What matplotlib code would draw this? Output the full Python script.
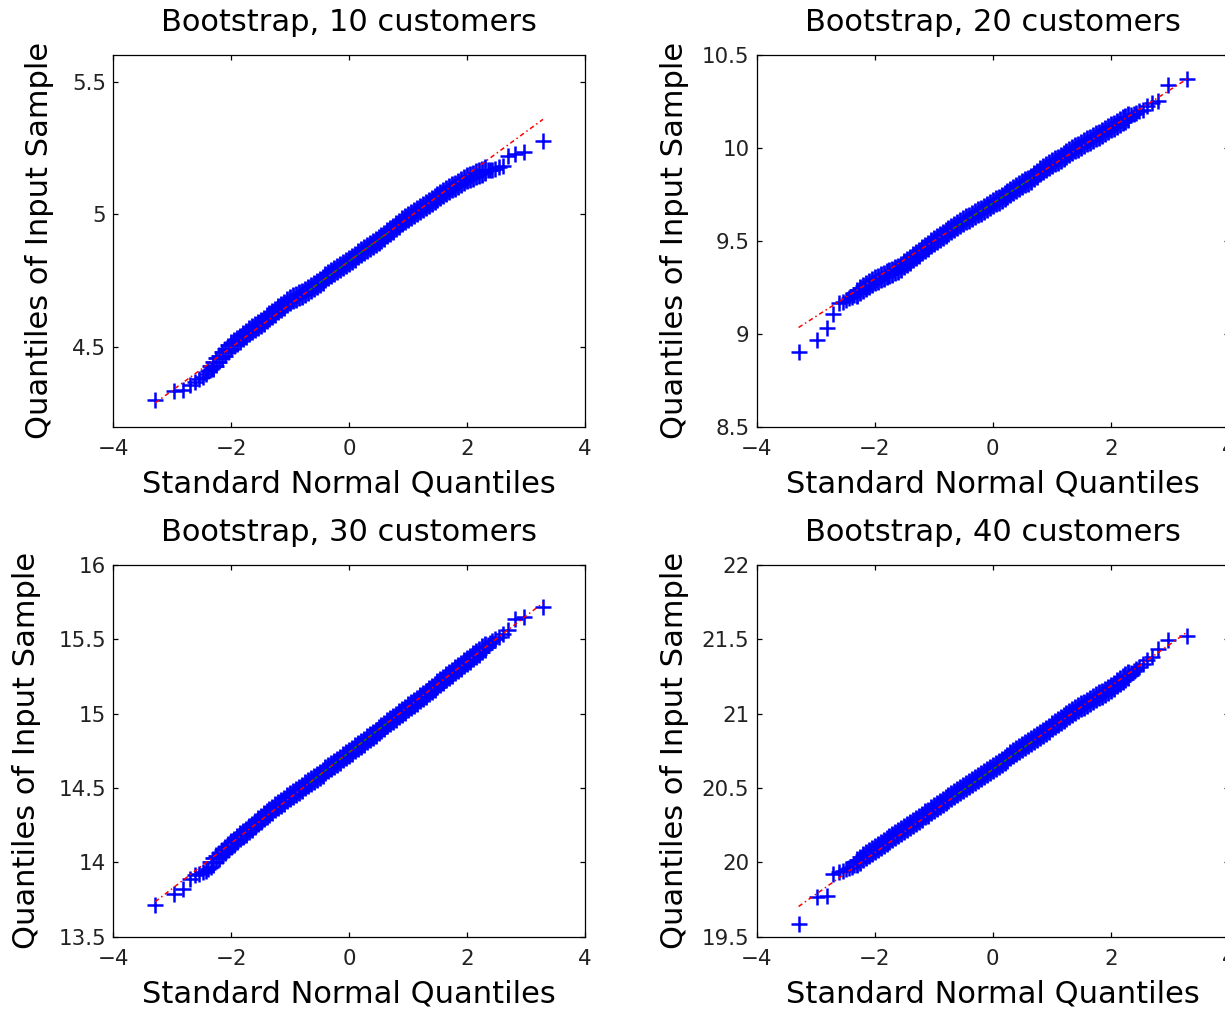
import matplotlib
matplotlib.use('Agg')
import matplotlib.pyplot as plt
import numpy as np
from matplotlib.ticker import FormatStrFormatter

plt.rcParams['font.family'] = ['DejaVu Sans']

# theoretical standard normal quantiles (shared x positions of the QQ points)
norm_q = [-3.29, -2.97, -2.81, -2.70, -2.61, -2.54, -2.48, -2.43, -2.39, -2.35,
          -2.30, -2.25, -2.20, -2.15, -2.10, -2.05, -2.00, -1.95, -1.90, -1.85,
          -1.80, -1.75, -1.70, -1.65, -1.60, -1.55, -1.50, -1.45, -1.40, -1.35,
          -1.30, -1.25, -1.20, -1.15, -1.10, -1.05, -1.00, -0.95, -0.90, -0.85,
          -0.80, -0.75, -0.70, -0.65, -0.60, -0.55, -0.50, -0.45, -0.40, -0.35,
          -0.30, -0.25, -0.20, -0.15, -0.10, -0.05, 0.00, 0.05, 0.10, 0.15,
          0.20, 0.25, 0.30, 0.35, 0.40, 0.45, 0.50, 0.55, 0.60, 0.65,
          0.70, 0.75, 0.80, 0.85, 0.90, 0.95, 1.00, 1.05, 1.10, 1.15,
          1.20, 1.25, 1.30, 1.35, 1.40, 1.45, 1.50, 1.55, 1.60, 1.65,
          1.70, 1.75, 1.80, 1.85, 1.90, 1.95, 2.00, 2.05, 2.10, 2.15,
          2.20, 2.25, 2.30,
          2.35, 2.39, 2.43, 2.48, 2.54, 2.61, 2.70, 2.81, 2.97, 3.29]

# sample quantiles
y_10 = [4.300, 4.335, 4.340, 4.358, 4.370, 4.380, 4.388, 4.398, 4.408, 4.418,
        4.430, 4.445, 4.457, 4.468, 4.481, 4.494, 4.507, 4.514, 4.524, 4.532,
        4.540, 4.551, 4.559, 4.568, 4.575, 4.583, 4.591, 4.600, 4.609, 4.616,
        4.624, 4.633, 4.642, 4.650, 4.659, 4.668, 4.676, 4.683, 4.689, 4.695,
        4.701, 4.707, 4.713, 4.721, 4.729, 4.738, 4.746, 4.754, 4.762, 4.770,
        4.778, 4.786, 4.794, 4.802, 4.810, 4.818, 4.825, 4.833, 4.841, 4.849,
        4.857, 4.865, 4.872, 4.880, 4.888, 4.896, 4.904, 4.912, 4.920, 4.928,
        4.936, 4.945, 4.955, 4.964, 4.974, 4.983, 4.991, 4.999, 5.006, 5.014,
        5.021, 5.029, 5.036, 5.044, 5.051, 5.059, 5.066, 5.073, 5.080, 5.087,
        5.094, 5.101, 5.108, 5.114, 5.121, 5.128, 5.135, 5.140, 5.145, 5.150,
        5.155, 5.160, 5.165,
        5.166, 5.167, 5.168, 5.170, 5.177, 5.183, 5.221, 5.228, 5.233, 5.277]

y_20 = [8.904, 8.964, 9.032, 9.108, 9.164, 9.169, 9.180, 9.192, 9.200, 9.208,
        9.222, 9.233, 9.244, 9.255, 9.266, 9.277, 9.288, 9.296, 9.303, 9.311,
        9.319, 9.327, 9.335, 9.343, 9.351, 9.360, 9.373, 9.386, 9.399, 9.412,
        9.424, 9.437, 9.450, 9.463, 9.474, 9.486, 9.497, 9.509, 9.520, 9.532,
        9.543, 9.555, 9.566, 9.576, 9.586, 9.595, 9.605, 9.615, 9.625, 9.634,
        9.644, 9.654, 9.663, 9.673, 9.683, 9.692, 9.702, 9.712, 9.722, 9.733,
        9.743, 9.753, 9.763, 9.773, 9.783, 9.794, 9.804, 9.814, 9.824, 9.834,
        9.848, 9.862, 9.877, 9.887, 9.897, 9.907, 9.917, 9.927, 9.937, 9.947,
        9.958, 9.968, 9.978, 9.988, 9.997, 10.007, 10.016, 10.025, 10.035, 10.044,
        10.053, 10.063, 10.072, 10.081, 10.091, 10.100, 10.110, 10.119, 10.129, 10.139,
        10.149, 10.158, 10.168,
        10.176, 10.182, 10.190, 10.198, 10.205, 10.225, 10.243, 10.252, 10.337, 10.369]

y_30 = [13.710, 13.789, 13.822, 13.890, 13.912, 13.923, 13.935, 13.945, 13.955, 13.968,
        14.005, 14.030, 14.045, 14.062, 14.080, 14.104, 14.123, 14.140, 14.157, 14.174,
        14.190, 14.207, 14.224, 14.241, 14.258, 14.275, 14.292, 14.309, 14.325, 14.340,
        14.355, 14.370, 14.385, 14.400, 14.415, 14.430, 14.445, 14.459, 14.474, 14.488,
        14.503, 14.517, 14.532, 14.546, 14.561, 14.575, 14.590, 14.604, 14.619, 14.633,
        14.648, 14.662, 14.677, 14.691, 14.706, 14.720, 14.735, 14.750, 14.766, 14.781,
        14.796, 14.812, 14.827, 14.842, 14.858, 14.873, 14.888, 14.904, 14.919, 14.934,
        14.950, 14.965, 14.980, 14.996, 15.011, 15.026, 15.042, 15.057, 15.072, 15.088,
        15.104, 15.119, 15.135, 15.151, 15.166, 15.182, 15.198, 15.213, 15.229, 15.245,
        15.261, 15.276, 15.292, 15.308, 15.323, 15.339, 15.355, 15.370, 15.386, 15.401,
        15.417, 15.432, 15.448,
        15.462, 15.478, 15.490, 15.500, 15.515, 15.538, 15.561, 15.640, 15.650, 15.717]

y_40 = [19.587, 19.766, 19.777, 19.923, 19.934, 19.945, 19.955, 19.962, 19.972, 19.984,
        20.003, 20.018, 20.033, 20.048, 20.063, 20.078, 20.093, 20.106, 20.119, 20.133,
        20.146, 20.159, 20.172, 20.186, 20.199, 20.212, 20.226, 20.240, 20.253, 20.267,
        20.281, 20.294, 20.308, 20.322, 20.335, 20.349, 20.363, 20.376, 20.390, 20.404,
        20.417, 20.431, 20.445, 20.458, 20.472, 20.485, 20.499, 20.513, 20.526, 20.540,
        20.553, 20.567, 20.581, 20.594, 20.608, 20.621, 20.635, 20.649, 20.663, 20.677,
        20.691, 20.705, 20.719, 20.733, 20.747, 20.761, 20.775, 20.789, 20.803, 20.817,
        20.830, 20.844, 20.858, 20.872, 20.886, 20.900, 20.914, 20.928, 20.942, 20.956,
        20.970, 20.984, 20.998, 21.012, 21.024, 21.037, 21.049, 21.061, 21.074, 21.086,
        21.098, 21.111, 21.123, 21.135, 21.148, 21.160, 21.174, 21.189, 21.203, 21.217,
        21.231, 21.246, 21.260,
        21.272, 21.285, 21.298, 21.314, 21.336, 21.359, 21.381, 21.437, 21.493, 21.520]

customers = [10, 20, 30, 40]
samples = [y_10, y_20, y_30, y_40]
q1_vals = [4.714, 9.565, 14.534, 20.436]   # first quartile of each sample
q3_vals = [4.933, 9.839, 14.946, 20.814]   # third quartile of each sample
y_limits = [(4.2, 5.6), (8.5, 10.5), (13.5, 16), (19.5, 22)]
y_ticks = [[4.5, 5, 5.5],
           [8.5, 9, 9.5, 10, 10.5],
           [13.5, 14, 14.5, 15, 15.5, 16],
           [19.5, 20, 20.5, 21, 21.5, 22]]

W, H = 1225, 1009
fig = plt.figure(figsize=(W / 100, H / 100), dpi=100)

# axes boxes in pixels: left, top, width, height
boxes = [(113.3, 55, 471.5, 371.7), (756.7, 55, 472, 371.7),
         (113.3, 565, 471.5, 371.7), (756.7, 565, 472, 371.7)]
ylabel_x = [54, 689, 41, 689]

z_q = 0.6745  # standard normal quartile
xq = np.array(norm_q)
dense = np.abs(xq) <= 2.3  # here the real sample is so dense the crosses merge into a band

for i, (l, t, w, h) in enumerate(boxes):
    ax = fig.add_axes([l / W, 1 - (t + h) / H, w / W, h / H])
    y = np.array(samples[i])
    ax.plot(xq[dense], y[dense], ls='none', marker='+', color='blue', ms=16, mew=2.0)
    ax.plot(xq[~dense], y[~dense], ls='none', marker='+', color='blue', ms=11, mew=1.8)

    # reference line through the quartiles
    slope = (q3_vals[i] - q1_vals[i]) / (2 * z_q)
    mid = (q1_vals[i] + q3_vals[i]) / 2
    xs = np.array([norm_q[0], norm_q[-1]])
    ax.plot(xs, mid + slope * xs, color='red', lw=1.1, ls=(0, (3, 2, 1, 2)))
    ax.plot([-z_q, z_q], [q1_vals[i], q3_vals[i]], color='green', lw=0.9, ls=(0, (3, 2)))

    ax.set_xlim(-4, 4)
    ax.set_ylim(*y_limits[i])
    ax.set_xticks([-4, -2, 0, 2, 4])
    ax.set_yticks(y_ticks[i])
    ax.yaxis.set_major_formatter(FormatStrFormatter('%g'))
    ax.tick_params(direction='in', length=3.6, width=0.9, top=True, right=True,
                   labelsize=15.4, labelcolor='#222222')
    ax.tick_params(axis='x', pad=8.6)
    ax.tick_params(axis='y', pad=5.3)
    for sp in ax.spines.values():
        sp.set_linewidth(0.9)

    ax.set_title(f'Bootstrap, {customers[i]} customers', fontsize=22, pad=17)
    ax.set_xlabel('Standard Normal Quantiles', fontsize=22, labelpad=7.5)
    ax.set_ylabel('Quantiles of Input Sample', fontsize=22)
    ax.yaxis.set_label_coords((ylabel_x[i] - l) / w, 0.5)

fig.savefig('out.png', dpi=100)
